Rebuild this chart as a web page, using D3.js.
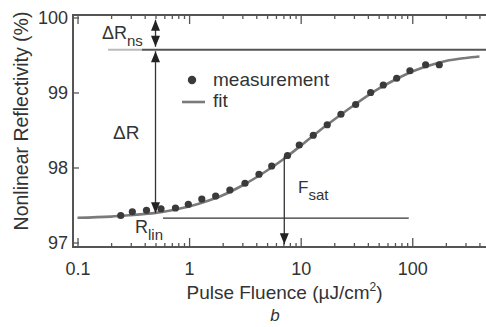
<!DOCTYPE html>
<html>
<head>
<meta charset="utf-8">
<script src="https://cdn.jsdelivr.net/npm/d3@7"></script>
<style>
  html, body { margin: 0; padding: 0; background: #fff; }
  svg { display: block; font-family: "Liberation Sans", Arial, sans-serif; }
</style>
</head>
<body>
<div id="chart"></div>
<script>
// measured points (fluence in µJ/cm², reflectivity in %)
const measFluence = [0.244, 0.31, 0.415, 0.56, 0.755, 0.984, 1.3, 1.73, 2.32, 3.17, 4.23, 5.5,
  7.62, 9.71, 12.97, 17.3, 22.96, 31.1, 42.4, 55.0, 72.5, 95.3, 131.8, 174.6];
const measRefl = [97.36, 97.41, 97.43, 97.45, 97.46, 97.51, 97.58, 97.62, 97.7, 97.79, 97.91, 98.02,
  98.16, 98.3, 98.43, 98.57, 98.71, 98.84, 99.0, 99.1, 99.19, 99.29, 99.37, 99.37];

// fit curve
const fitFluence = [0.1, 0.2, 0.3, 0.5, 0.7, 1, 1.5, 2, 3, 5, 7, 10, 15, 20, 30, 50, 70, 100, 150, 200, 300, 400];
const fitRefl = [97.33, 97.345, 97.365, 97.395, 97.43, 97.48, 97.56, 97.63, 97.76, 97.96, 98.11, 98.29,
  98.5, 98.64, 98.83, 99.05, 99.17, 99.28, 99.37, 99.42, 99.46, 99.48];

// axis ticks
const xMajor = [0.1, 1, 10, 100];
const xLabels = ["0.1", "1", "10", "100"];
const yTicks = [97, 98, 99, 100];

// annotation levels
const rNs = 99.57;      // saturated reflectivity line
const rLin = 97.325;    // linear reflectivity line
const fArrow = 0.5;     // fluence of the ΔR arrows
const fSat = 7.13;      // saturation fluence
const rSatCurve = 98.15;

const W = 486, H = 327;
const x = d3.scaleLog().domain([0.0911, 458]).range([73, 486]);
const y = d3.scaleLinear().domain([96.94, 100.033]).range([247, 15]);

const ink = "#333", axisCol = "#555";

const svg = d3.select("#chart").append("svg")
  .attr("width", W).attr("height", H);

// axes
const minor = x.ticks().filter(v => !xMajor.includes(v));

const gBottom = svg.append("g").attr("transform", `translate(0,${y.range()[0]})`);
gBottom.call(d3.axisBottom(x).tickValues(minor).tickSize(-4).tickFormat(""));
gBottom.call(g => g.append("g").call(
  d3.axisBottom(x).tickValues(xMajor).tickSize(-9).tickPadding(15)
    .tickFormat((d, i) => xLabels[i])));

const gTop = svg.append("g").attr("transform", `translate(0,${y.range()[1]})`);
gTop.call(d3.axisTop(x).tickValues(minor).tickSize(-4).tickFormat(""));
gTop.call(g => g.append("g").call(d3.axisTop(x).tickValues(xMajor).tickSize(-9).tickFormat("")));

const gLeft = svg.append("g").attr("transform", `translate(${x.range()[0]},0)`);
gLeft.call(d3.axisLeft(y).tickValues(yTicks).tickSize(-6).tickPadding(5).tickFormat(d3.format("d")));

svg.selectAll(".domain").remove();
svg.selectAll(".tick line").attr("stroke", axisCol).attr("stroke-width", 1.3);
svg.selectAll(".tick text").attr("fill", ink).style("font-size", "18px")
  .style("font-family", "'Liberation Sans', Arial, sans-serif");

// frame lines (left, bottom, top)
const [x0, x1] = x.range(), [yb, yt] = y.range();
svg.append("path")
  .attr("d", `M${x1},${yt}H${x0}V${yb}H${x1}`)
  .attr("fill", "none").attr("stroke", axisCol).attr("stroke-width", 2);

// reference lines
svg.append("line")
  .attr("x1", x(0.188)).attr("x2", x(0.378)).attr("y1", y(rNs)).attr("y2", y(rNs))
  .attr("stroke", "#bbb").attr("stroke-width", 2);
svg.append("line")
  .attr("x1", x(0.378)).attr("x2", x1).attr("y1", y(rNs)).attr("y2", y(rNs))
  .attr("stroke", "#555").attr("stroke-width", 2);
svg.append("line")
  .attr("x1", x(0.584)).attr("x2", x(93)).attr("y1", y(rLin)).attr("y2", y(rLin))
  .attr("stroke", ink).attr("stroke-width", 1.3);

// fit curve
const fitData = fitFluence.map((f, i) => ({ f, r: fitRefl[i] }));
svg.append("path")
  .datum(fitData)
  .attr("d", d3.line().x(d => x(d.f)).y(d => y(d.r)).curve(d3.curveMonotoneX))
  .attr("fill", "none").attr("stroke", "#7a7a7a").attr("stroke-width", 2.6);

// measurement dots
const measData = measFluence.map((f, i) => ({ f, r: measRefl[i] }));
svg.append("g").selectAll("circle")
  .data(measData)
  .join("circle")
  .attr("cx", d => x(d.f)).attr("cy", d => y(d.r)).attr("r", 3.6)
  .attr("fill", "#3a3a3a");

// arrows
const head = (px, tip, dir) => {
  const h = 11 * dir, w = 4.5;
  svg.append("path")
    .attr("d", `M${px},${tip}L${px - w},${tip + h}L${px + w},${tip + h}Z`)
    .attr("fill", "#222");
};
const vArrow = (f, rTop, rBot, top, bottom) => {
  const px = x(f);
  svg.append("line")
    .attr("x1", px).attr("x2", px).attr("y1", y(rTop)).attr("y2", y(rBot))
    .attr("stroke", ink).attr("stroke-width", 1.3);
  if (top) head(px, y(rTop), 1);
  if (bottom) head(px, y(rBot), -1);
};
vArrow(fArrow, 99.97, 99.61, true, true);
vArrow(fArrow, 99.55, 97.39, true, true);
vArrow(fSat, rSatCurve, 96.975, false, true);

// labels with subscripts
const subLabel = (tx, ty, main, sub, size, subSize) => {
  const t = svg.append("text").attr("x", tx).attr("y", ty)
    .attr("fill", ink).style("font-size", size + "px");
  t.append("tspan").text(main);
  if (sub) t.append("tspan").attr("dy", 7).style("font-size", subSize + "px").text(sub);
};
subLabel(102, 39, "ΔR", "ns", 18, 15);
subLabel(113, 139, "ΔR", null, 19);
subLabel(135, 233, "R", "lin", 18, 15);
subLabel(298, 193, "F", "sat", 17, 15);

// legend
svg.append("circle").attr("cx", 192).attr("cy", 80).attr("r", 4.2).attr("fill", "#3a3a3a");
svg.append("text").attr("x", 213).attr("y", 86).attr("fill", ink)
  .style("font-size", "19px").text("measurement");
svg.append("line").attr("x1", 182).attr("x2", 205).attr("y1", 102).attr("y2", 102)
  .attr("stroke", "#7a7a7a").attr("stroke-width", 2.6);
svg.append("text").attr("x", 213).attr("y", 107).attr("fill", ink)
  .style("font-size", "19px").text("fit");

// axis titles
const xt = svg.append("text").attr("x", 284.5).attr("y", 299).attr("text-anchor", "middle")
  .attr("fill", ink).style("font-size", "19px");
xt.append("tspan").text("Pulse Fluence (µJ/cm");
xt.append("tspan").attr("dy", -8).style("font-size", "12px").text("2");
xt.append("tspan").attr("dy", 8).text(")");

svg.append("text")
  .attr("transform", "translate(28,121) rotate(-90)")
  .attr("text-anchor", "middle").attr("fill", ink).style("font-size", "19.5px")
  .text("Nonlinear Reflectivity (%)");

svg.append("text").attr("x", 275).attr("y", 321).attr("text-anchor", "middle")
  .attr("fill", ink).style("font-size", "17px").style("font-style", "italic").text("b");
</script>
</body>
</html>
